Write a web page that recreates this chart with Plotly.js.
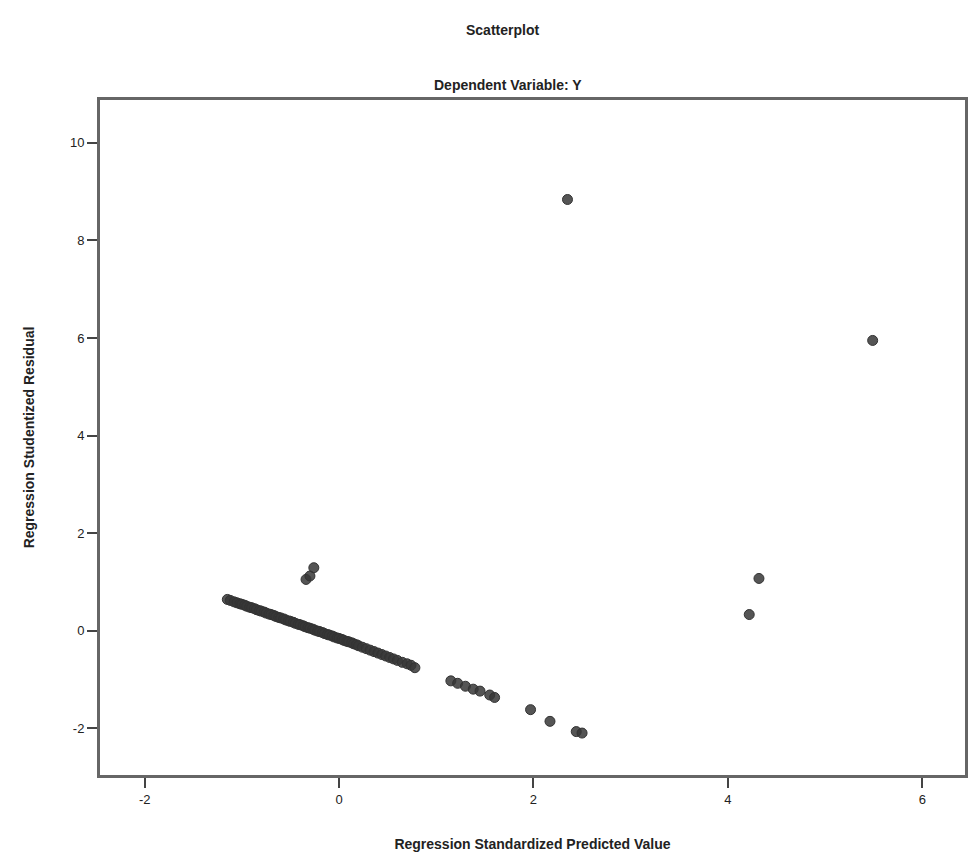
<!DOCTYPE html>
<html>
<head>
<meta charset="utf-8">
<script src="https://cdn.plot.ly/plotly-3.0.1.min.js"></script>
<style>html,body{margin:0;padding:0;background:#fff;}#chart{width:968px;height:864px;}</style>
</head>
<body>
<div id="chart"></div>
<script>
// Regression Standardized Predicted Value (x) and Studentized Residual (y)
const predicted = [
  -1.15,-1.12,-1.08,-1.05,-1.02,-1.00,-0.97,-0.95,-0.92,-0.90,-0.87,-0.85,-0.82,-0.80,-0.77,-0.75,
  -0.72,-0.70,-0.67,-0.65,-0.62,-0.60,-0.57,-0.55,-0.52,-0.50,-0.47,-0.45,-0.42,-0.40,-0.37,-0.35,
  -0.32,-0.30,-0.27,-0.25,-0.22,-0.20,-0.17,-0.15,-0.12,-0.10,-0.07,-0.05,-0.02,0.00,0.03,0.05,
  0.08,0.10,0.13,0.15,0.18,0.20,0.24,0.28,0.32,0.36,0.40,0.44,0.48,0.52,0.56,0.60,0.65,0.70,0.74,0.78,
  1.15,1.22,1.30,1.38,1.45,1.55,1.60,1.97,2.17,2.44,2.50,
  -0.34,-0.30,-0.26,
  2.35,5.49,4.32,4.22
];
const residual = [
  0.64,0.62,0.59,0.57,0.55,0.54,0.52,0.50,0.48,0.47,0.45,0.43,0.41,0.40,0.38,0.36,
  0.34,0.33,0.31,0.29,0.27,0.26,0.24,0.22,0.20,0.19,0.17,0.15,0.13,0.12,0.10,0.08,
  0.06,0.05,0.03,0.01,-0.01,-0.02,-0.04,-0.06,-0.08,-0.09,-0.11,-0.13,-0.15,-0.16,-0.18,-0.20,
  -0.22,-0.23,-0.25,-0.27,-0.29,-0.31,-0.34,-0.37,-0.40,-0.43,-0.46,-0.49,-0.52,-0.55,-0.58,-0.61,-0.65,-0.68,-0.71,-0.76,
  -1.03,-1.08,-1.14,-1.20,-1.24,-1.32,-1.37,-1.62,-1.86,-2.07,-2.10,
  1.05,1.12,1.29,
  8.84,5.95,1.07,0.33
];
const xTicks = [-2, 0, 2, 4, 6];
const yTicks = [-2, 0, 2, 4, 6, 8, 10];

const font = {family: 'Liberation Sans, Arial, sans-serif', color: '#222'};

Plotly.newPlot('chart', [{
  type: 'scatter',
  mode: 'markers',
  x: predicted,
  y: residual,
  marker: {size: 10, color: 'rgba(55,55,55,0.85)', line: {color: '#333', width: 1}},
  hoverinfo: 'x+y'
}], {
  width: 968, height: 864,
  margin: {l: 100, r: 3, t: 100, b: 89},
  paper_bgcolor: '#fff', plot_bgcolor: '#fff',
  showlegend: false,
  font: Object.assign({size: 12}, font),
  xaxis: {
    range: [-2.46, 6.44],
    tickvals: xTicks, ticktext: xTicks.map(String),
    ticks: 'outside', ticklen: 10, tickwidth: 2, tickcolor: '#444',
    showgrid: false, zeroline: false,
    showline: true, linecolor: '#666', linewidth: 3, mirror: true,
    tickfont: Object.assign({size: 13}, font),
    title: {text: '<b>Regression Standardized Predicted Value</b>', font: Object.assign({size: 14}, font), standoff: 34}
  },
  yaxis: {
    range: [-2.96, 10.88],
    tickvals: yTicks, ticktext: yTicks.map(String),
    ticks: 'outside', ticklen: 10, tickwidth: 2, tickcolor: '#444',
    showgrid: false, zeroline: false,
    showline: true, linecolor: '#666', linewidth: 3, mirror: true,
    tickfont: Object.assign({size: 13}, font),
    title: {text: '<b>Regression Studentized Residual</b>', font: Object.assign({size: 14}, font), standoff: 33}
  },
  annotations: [
    {text: '<b>Scatterplot</b>', xref: 'paper', yref: 'paper', x: 0.5, y: 1, yshift: 80, xshift: -30,
     showarrow: false, font: Object.assign({size: 14}, font)},
    {text: '<b>Dependent Variable: Y</b>', xref: 'paper', yref: 'paper', x: 0.5, y: 1, yshift: 25, xshift: -25,
     showarrow: false, font: Object.assign({size: 14}, font)}
  ]
}, {displayModeBar: false, staticPlot: true});
</script>
</body>
</html>
